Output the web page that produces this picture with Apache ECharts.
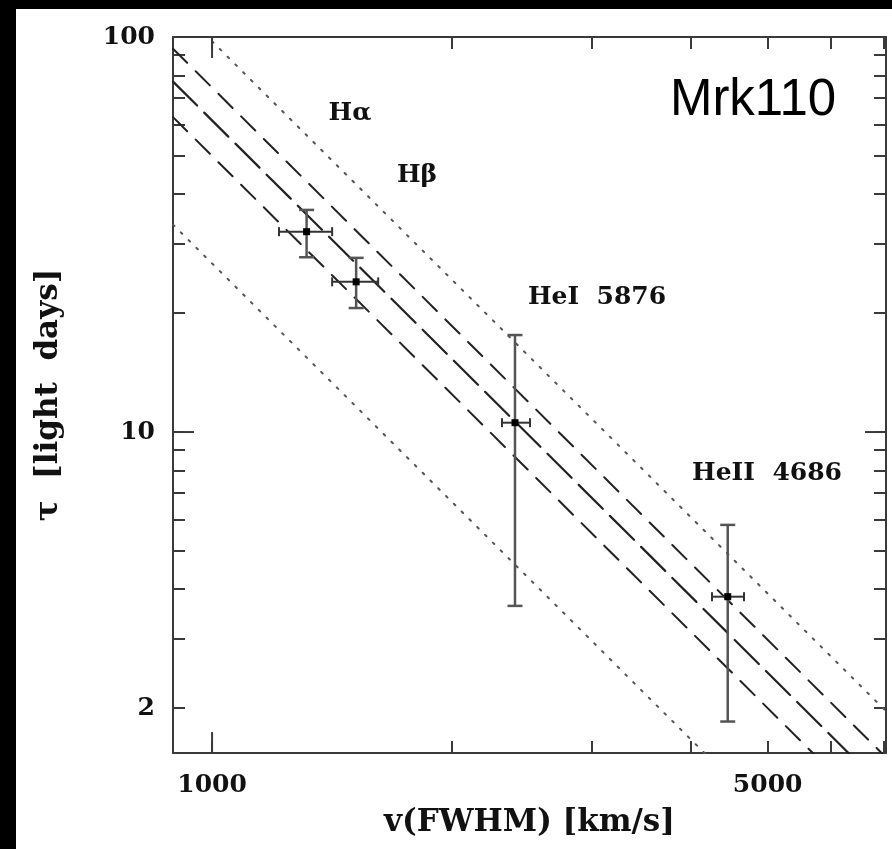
<!DOCTYPE html>
<html><head><meta charset="utf-8">
<script src="https://cdn.jsdelivr.net/npm/echarts@6/dist/echarts.min.js"></script>
<style>html,body{margin:0;padding:0;background:#fff}#c{width:892px;height:849px}</style>
</head><body><div id="c"></div>
<script>
// ---- data ----
const pointNames = ['Hα', 'Hβ', 'HeI 5876', 'HeII 4686'];
const fwhm   = [1315, 1518, 2405, 4454];
const fwhmLo = [1214, 1416, 2316, 4256];
const fwhmHi = [1416, 1618, 2512, 4669];
const tau    = [32.15, 24.0, 10.56, 3.83];
const tauLo  = [27.7, 20.6, 3.63, 1.85];
const tauHi  = [36.5, 27.6, 17.6, 5.82];

// model lines (tau ~ v^-2), end points at v = lineV
const lineV = [893, 7045];
const upperDotted = [122.3, 1.965];
const upperDashed = [93.4, 1.501];
const middleDashed = [77.1, 1.239];
const lowerDashed = [62.7, 1.008];
const lowerDotted = [33.5, 0.538];

// axes
const xMin = 893, xMax = 7045;
const yMin = 1.54, yMax = 100;
const xTicks = [1000, 2000, 3000, 4000, 5000, 6000, 7000];
const xTickLabels = [1000, 5000];
const yTicks = [2, 3, 4, 5, 6, 7, 8, 9, 10, 20, 30, 40, 50, 60, 70, 80, 90, 100];
const yTickLabels = [2, 10, 100];
const xMajor = [1000];
const yMajor = [10, 100];

// annotations
const annText = ['Hα', 'Hβ', 'HeI  5876', 'HeII  4686', 'Mrk110'];
const annV = [1491, 1811, 3050, 4991, 4793];
const annTau = [64.2, 44.7, 21.97, 7.87, 68.9];

// ---- chart ----
const AX = '#3a3a3a';
const serif = 'DejaVu Serif';
const TXT = '#111';
const chart = echarts.init(document.getElementById('c'), null, {renderer: 'canvas'});

function pairs(ys) { return lineV.map((v, i) => [v, ys[i]]); }

function lineSeries(name, ys, dash, w, col) {
  return {
    type: 'line', name: name, data: pairs(ys), symbol: 'none', silent: true,
    clip: true, xAxisIndex: 0, yAxisIndex: 0,
    lineStyle: {color: col, width: w, type: dash, cap: 'round', opacity: 1}
  };
}

const errData = fwhm.map((v, i) => [v, tau[i], fwhmLo[i], fwhmHi[i], tauLo[i], tauHi[i]]);

const baseAxis = {
  type: 'log', logBase: 10,
  axisLine: {show: true, lineStyle: {color: AX, width: 2}},
  splitLine: {show: false},
  axisTick: {show: true, inside: true, length: 12, lineStyle: {color: AX, width: 2}},
  minorTick: {show: false}
};

chart.setOption({
  animation: false,
  backgroundColor: '#fff',
  grid: {left: 173, top: 37, right: 6, bottom: 96, containLabel: false, outerBoundsMode: 'none'},
  xAxis: [
    Object.assign({}, baseAxis, {
      position: 'bottom', min: xMin, max: xMax,
      axisTick: Object.assign({}, baseAxis.axisTick, {customValues: xTicks}),
      axisLabel: {show: true, customValues: xTickLabels, margin: 20, fontFamily: serif, fontWeight: 'bold', fontSize: 25, color: TXT,
        formatter: v => String(Math.round(v))},
      name: 'v(FWHM) [km/s]', nameLocation: 'middle', nameGap: 54,
      nameTextStyle: {fontFamily: serif, fontWeight: 'bold', fontSize: 31, color: TXT}
    }),
    Object.assign({}, baseAxis, {
      position: 'top', min: xMin, max: xMax,
      axisTick: Object.assign({}, baseAxis.axisTick, {customValues: xTicks}),
      axisLabel: {show: false}
    })
  ],
  yAxis: [
    Object.assign({}, baseAxis, {
      position: 'left', min: yMin, max: yMax,
      axisTick: Object.assign({}, baseAxis.axisTick, {customValues: yTicks}),
      axisLabel: {show: true, customValues: yTickLabels, margin: 18, fontFamily: serif, fontWeight: 'bold', fontSize: 25, color: TXT,
        formatter: v => String(Math.round(v))},
      name: 'τ  [light  days]', nameLocation: 'middle', nameGap: 109, nameRotate: 90,
      nameTextStyle: {fontFamily: serif, fontWeight: 'bold', fontSize: 31, color: TXT}
    }),
    Object.assign({}, baseAxis, {
      position: 'right', min: yMin, max: yMax,
      axisTick: Object.assign({}, baseAxis.axisTick, {customValues: yTicks}),
      axisLabel: {show: false}
    })
  ],
  graphic: [
    {type: 'rect', left: 0, top: 0, shape: {width: 16, height: 849}, style: {fill: '#000'}, z: 100},
    {type: 'rect', left: 0, top: 0, shape: {width: 892, height: 9}, style: {fill: '#000'}, z: 100}
  ],
  series: [
    lineSeries('upperDotted', upperDotted, [2, 9], 2, '#555'),
    lineSeries('upperDashed', upperDashed, [20, 12], 2, '#222'),
    lineSeries('middleDashed', middleDashed, [34, 10], 2.2, '#222'),
    lineSeries('lowerDashed', lowerDashed, [20, 12], 2, '#222'),
    lineSeries('lowerDotted', lowerDotted, [2, 9], 2, '#555'),
    {
      type: 'custom', name: 'errors', data: errData, clip: true, silent: true, z: 5,
      renderItem: function (params, api) {
        const c = api.coord([api.value(0), api.value(1)]);
        const xl = api.coord([api.value(2), api.value(1)]);
        const xh = api.coord([api.value(3), api.value(1)]);
        const yl = api.coord([api.value(0), api.value(4)]);
        const yh = api.coord([api.value(0), api.value(5)]);
        const vs = {stroke: '#555', lineWidth: 2.5};
        const hs = {stroke: '#333', lineWidth: 2};
        return {type: 'group', children: [
          {type: 'line', shape: {x1: c[0], y1: yl[1], x2: c[0], y2: yh[1]}, style: vs},
          {type: 'line', shape: {x1: c[0] - 7.5, y1: yl[1], x2: c[0] + 7.5, y2: yl[1]}, style: vs},
          {type: 'line', shape: {x1: c[0] - 7.5, y1: yh[1], x2: c[0] + 7.5, y2: yh[1]}, style: vs},
          {type: 'line', shape: {x1: xl[0], y1: c[1], x2: xh[0], y2: c[1]}, style: hs},
          {type: 'line', shape: {x1: xl[0], y1: c[1] - 4.5, x2: xl[0], y2: c[1] + 4.5}, style: hs},
          {type: 'line', shape: {x1: xh[0], y1: c[1] - 4.5, x2: xh[0], y2: c[1] + 4.5}, style: hs}
        ]};
      }
    },
    {
      type: 'scatter', name: 'points', symbol: 'rect', symbolSize: 7, z: 6,
      itemStyle: {color: '#000', opacity: 1}, silent: true,
      data: fwhm.map((v, i) => ({name: pointNames[i], value: [v, tau[i]]}))
    },
    {
      type: 'custom', name: 'majorX', data: xMajor.map(v => [v, 10]), clip: false, silent: true, z: 4,
      renderItem: function (params, api) {
        const cs = params.coordSys;
        const x = api.coord([api.value(0), 10])[0];
        const st = {stroke: AX, lineWidth: 2};
        return {type: 'group', children: [
          {type: 'line', shape: {x1: x, y1: cs.y + cs.height, x2: x, y2: cs.y + cs.height - 21}, style: st},
          {type: 'line', shape: {x1: x, y1: cs.y, x2: x, y2: cs.y + 21}, style: st}
        ]};
      }
    },
    {
      type: 'custom', name: 'majorY', data: yMajor.map(t => [1000, t]), clip: false, silent: true, z: 4,
      renderItem: function (params, api) {
        const cs = params.coordSys;
        const y = api.coord([1000, api.value(1)])[1];
        const st = {stroke: AX, lineWidth: 2};
        return {type: 'group', children: [
          {type: 'line', shape: {x1: cs.x, y1: y, x2: cs.x + 21, y2: y}, style: st},
          {type: 'line', shape: {x1: cs.x + cs.width, y1: y, x2: cs.x + cs.width - 21, y2: y}, style: st}
        ]};
      }
    },
    {
      type: 'scatter', name: 'annotations', symbolSize: 0, silent: true, z: 7,
      itemStyle: {opacity: 1},
      label: {show: true, position: 'inside', formatter: '{b}', fontFamily: serif, fontWeight: 'bold', fontSize: 25,
        color: TXT, opacity: 1, textBorderWidth: 0, align: 'center', verticalAlign: 'middle'},
      data: annText.map((t, i) => {
        const d = {name: t, value: [annV[i], annTau[i]]};
        if (t === 'Mrk110') d.label = {fontFamily: 'Liberation Sans', fontWeight: 'normal', fontSize: 51, color: '#000'};
        return d;
      })
    }
  ]
});
</script></body></html>
